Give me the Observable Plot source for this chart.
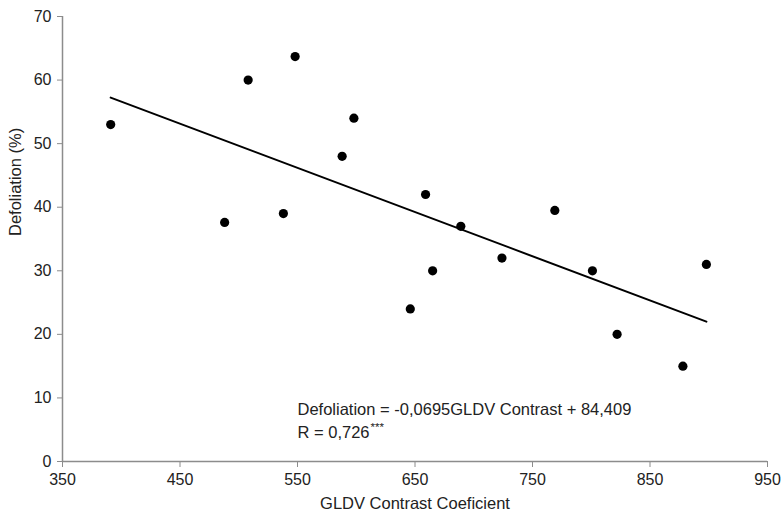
<!DOCTYPE html>
<html>
<head>
<meta charset="utf-8">
<script src="https://cdn.jsdelivr.net/npm/d3@7"></script>
<script src="https://cdn.jsdelivr.net/npm/@observablehq/plot@0.6"></script>
<style>
  html, body { margin: 0; padding: 0; background: #fff; }
  #chart svg { display: block; }
</style>
</head>
<body>
<div id="chart"></div>
<script>
// Data
const contrast = [391, 488, 508, 538, 548, 588, 598, 646, 659, 665, 689, 724, 769, 801, 822, 878, 898];
const defoliation = [53, 37.6, 60, 39, 63.7, 48, 54, 24, 42, 30, 37, 32, 39.5, 30, 20, 15, 31];

// Regression given on the chart
const slope = -0.0695;
const intercept = 84.409;

const xTicks = [350, 450, 550, 650, 750, 850, 950];
const yTicks = [0, 10, 20, 30, 40, 50, 60, 70];

const xLabel = "GLDV Contrast Coeficient";
const yLabel = "Defoliation (%)";

const annotationLines = ["Defoliation = -0,0695GLDV Contrast + 84,409", "R = 0,726"];
const annotationX = 550;
const annotationY = [8.2, 4.6];
const significance = "***";

const points = contrast.map((x, i) => ({x, y: defoliation[i]}));
const [xMin, xMax] = d3.extent(contrast);
const fitLine = [xMin, xMax].map(x => ({x, y: slope * x + intercept}));
const annot = annotationLines.map((t, i) => ({t, x: annotationX, y: annotationY[i]}));

const font = "Liberation Sans, Arial, sans-serif";
const axisColor = "#8c8c8c";
const textColor = "#222";

const chart = Plot.plot({
  width: 783,
  height: 520,
  marginLeft: 62,
  marginRight: 16,
  marginTop: 16,
  marginBottom: 59,
  style: {fontFamily: font, fontSize: "16px", color: textColor, background: "#fff"},
  x: {domain: [350, 950]},
  y: {domain: [0, 70]},
  marks: [
    Plot.axisX({ticks: xTicks, tickSize: 6, tickPadding: 6, stroke: axisColor, fill: textColor,
      fontSize: 16, label: null, tickFormat: d => String(d)}),
    Plot.axisY({ticks: yTicks, tickSize: 5, tickPadding: 6, stroke: axisColor, fill: textColor,
      fontSize: 16, label: null, tickFormat: d => String(d)}),
    Plot.ruleY([0], {stroke: axisColor, strokeWidth: 1.5}),
    Plot.ruleX([350], {stroke: axisColor, strokeWidth: 1.5}),
    Plot.line(fitLine, {x: "x", y: "y", stroke: "#000", strokeWidth: 2}),
    Plot.dot(points, {x: "x", y: "y", r: 4.6, fill: "#000", stroke: "none"}),
    Plot.text(annot, {x: "x", y: "y", text: "t", textAnchor: "start", fontSize: 16.5, fill: textColor}),
    Plot.text([annot[1]], {x: "x", y: "y", text: () => significance, textAnchor: "start",
      dx: 73, dy: -5, fontSize: 11.5, fill: textColor}),
    Plot.text([xLabel], {frameAnchor: "bottom", dy: 47, fontSize: 16.5, fill: textColor}),
    Plot.text([yLabel], {frameAnchor: "left", dx: -47, dy: -3, rotate: -90, fontSize: 16.5, fill: textColor})
  ]
});
document.getElementById("chart").appendChild(chart);
</script>
</body>
</html>
